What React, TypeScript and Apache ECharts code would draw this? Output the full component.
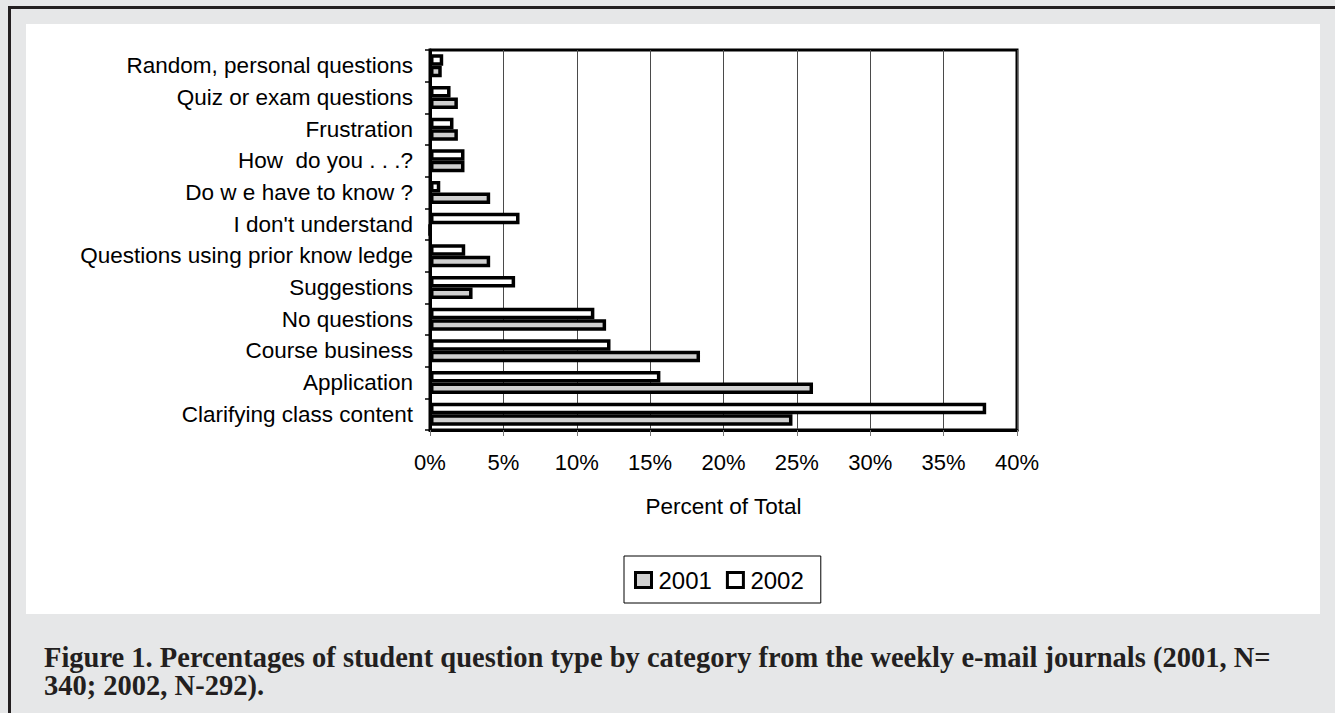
import React, { useEffect, useRef } from "react";
import * as echarts from "echarts";

const categories = [
  "Clarifying class content",
  "Application",
  "Course business",
  "No questions",
  "Suggestions",
  "Questions using prior know ledge",
  "I don't understand",
  "Do w e have to know ?",
  "How  do you . . .?",
  "Frustration",
  "Quiz or exam questions",
  "Random, personal questions",
];
const values2001 = [24.7, 26.1, 18.4, 12.0, 2.9, 4.1, 0, 4.1, 2.35, 1.9, 1.9, 0.8];
const values2002 = [37.9, 15.7, 12.3, 11.2, 5.8, 2.4, 6.1, 0.7, 2.35, 1.6, 1.4, 0.9];
const legendNames = ["2001", "2002"];
const axisName = "Percent of Total";
const captionLine1 =
  "Figure 1. Percentages of student question type by category from the weekly e-mail journals (2001, N=";
const captionLine2 = "340; 2002, N-292).";

export default function App() {
  const ref = useRef<HTMLDivElement>(null);
  useEffect(() => {
    if (!ref.current) return;
    const chart = echarts.init(ref.current, null, { renderer: "svg" });
    const font = "'Liberation Sans', Arial, sans-serif";
    const capFont = "bold 28.5px 'Liberation Serif', 'Times New Roman', serif";
    chart.setOption({
      animation: false,
      backgroundColor: "#e6e7e8",
      textStyle: { fontFamily: font },
      graphic: [
        { type: "rect", z: -10, shape: { x: 26, y: 24, width: 1294, height: 590 }, style: { fill: "#ffffff" } },
        { type: "line", z: -5, shape: { x1: 9.5, y1: 6, x2: 9.5, y2: 713 }, style: { stroke: "#231f20", lineWidth: 3 } },
        { type: "line", z: -5, shape: { x1: 8, y1: 7.5, x2: 1335, y2: 7.5 }, style: { stroke: "#231f20", lineWidth: 3 } },
        {
          type: "text",
          x: 44,
          y: 657,
          style: { text: captionLine1, fill: "#231f20", font: capFont, verticalAlign: "middle" },
        },
        {
          type: "text",
          x: 44,
          y: 685,
          style: { text: captionLine2, fill: "#231f20", font: capFont, verticalAlign: "middle" },
        },
      ],
      legend: {
        data: legendNames,
        left: 624,
        top: 556,
        orient: "horizontal",
        backgroundColor: "#ffffff",
        borderColor: "#000000",
        borderWidth: 1,
        padding: [12, 17, 11, 10],
        itemGap: 14,
        itemWidth: 16,
        itemHeight: 15,
        icon: "rect",
        itemStyle: { borderColor: "#000", borderWidth: 3 },
        textStyle: { fontSize: 24, color: "#000", fontFamily: font, padding: [0, 0, 0, 2] },
      },
      grid: {
        left: 430,
        right: 318,
        top: 50,
        height: 380,
        show: true,
        borderColor: "#000",
        borderWidth: 3,
        containLabel: false,
      },
      xAxis: {
        type: "value",
        min: 0,
        max: 40,
        interval: 5,
        name: axisName,
        nameLocation: "middle",
        nameGap: 65,
        nameTextStyle: { fontSize: 22.5, color: "#000", fontFamily: font, verticalAlign: "top" },
        axisLine: { show: true, lineStyle: { color: "#000", width: 3 } },
        axisTick: { show: true, length: 6, lineStyle: { color: "#777", width: 1 } },
        axisLabel: { formatter: "{value}%", fontSize: 22, color: "#000", margin: 21, fontFamily: font },
        splitLine: { show: true, lineStyle: { color: "#4a4a4a", width: 1 } },
      },
      yAxis: {
        type: "category",
        data: categories,
        axisLine: { show: true, lineStyle: { color: "#000", width: 3 } },
        axisTick: { show: true, length: 5, alignWithLabel: false, lineStyle: { color: "#000", width: 1.5 } },
        axisLabel: { fontSize: 22.5, color: "#000", margin: 17, fontFamily: font },
        splitLine: { show: false },
      },
      series: [
        {
          name: "2002",
          type: "bar",
          data: values2002,
          barWidth: 11.5,
          barGap: "0%",
          itemStyle: { color: "#ffffff", borderColor: "#000", borderWidth: 3.5 },
        },
        {
          name: "2001",
          type: "bar",
          data: values2001,
          barWidth: 11.5,
          barGap: "0%",
          itemStyle: { color: "#d0d0d0", borderColor: "#000", borderWidth: 3.5 },
        },
      ],
    });
    return () => chart.dispose();
  }, []);
  return (
    <div
      ref={ref}
      style={{ position: "fixed", left: 0, top: 0, width: 1335, height: 713 }}
    />
  );
}
